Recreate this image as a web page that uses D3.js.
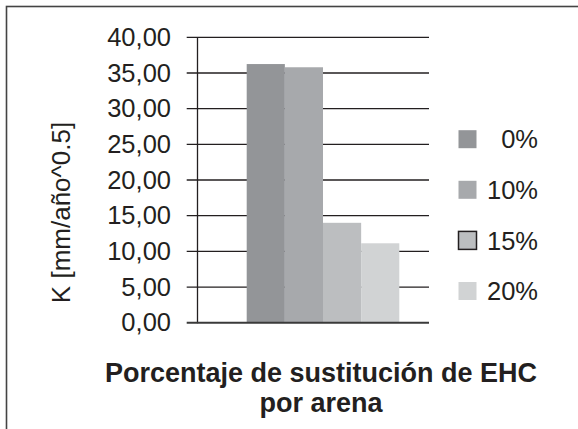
<!DOCTYPE html>
<html><head><meta charset="utf-8">
<script src="https://cdn.jsdelivr.net/npm/d3@7"></script>
<style>body{margin:0;background:#fff}svg{display:block}text{font-family:"Liberation Sans",Arial,Helvetica,sans-serif;fill:#231f20}</style>
</head><body>
<script>
const series = ["0%", "10%", "15%", "20%"];
const values = [36.25, 35.8, 14.0, 11.13];
const colors = ["#939598", "#a7a9ac", "#bcbec0", "#d1d3d4"];
const yTicks = [0, 5, 10, 15, 20, 25, 30, 35, 40];
const yTitle = "K [mm/año^0.5]";
const xTitle = ["Porcentaje de sustitución de EHC", "por arena"];

const W = 578, H = 429;
const svg = d3.select("body").append("svg").attr("width", W).attr("height", H);

svg.append("rect").attr("x", 6.5).attr("y", 6.5).attr("width", 620).attr("height", 460)
  .attr("fill", "none").attr("stroke", "#444").attr("stroke-width", 1.6);

const y = d3.scaleLinear().domain([0, 40]).range([322.7, 37.3]);
const x = d3.scaleBand().domain(series).range([246.7, 399.3]).padding(0);
const fmt = v => d3.format(".2f")(v).replace(".", ",");

// gridlines
svg.append("g").selectAll("line").data(yTicks.filter(d => d > 0)).join("line")
  .attr("x1", 186.7).attr("x2", 429).attr("y1", d => y(d)).attr("y2", d => y(d))
  .attr("stroke", "#231f20").attr("stroke-width", 1.3);

// bars
svg.append("g").selectAll("rect").data(values).join("rect")
  .attr("x", (d, i) => x(series[i])).attr("width", x.bandwidth())
  .attr("y", d => y(d)).attr("height", d => y(0) - y(d))
  .attr("fill", (d, i) => colors[i]);

// axis
const axis = d3.axisLeft(y).tickValues(yTicks).tickSize(0).tickFormat(fmt).tickPadding(26);
const ag = svg.append("g").attr("transform", "translate(197,0)").call(axis);
ag.select(".domain").attr("stroke", "#231f20").attr("stroke-width", 1.3);
ag.selectAll("text").attr("font-size", 25.5).style("font-family", '"Liberation Sans",Arial,sans-serif').attr("fill", "#231f20");

// baseline
svg.append("line").attr("x1", 186.7).attr("x2", 429).attr("y1", y(0)).attr("y2", y(0))
  .attr("stroke", "#3a3a3a").attr("stroke-width", 2);

// legend
const ly = d3.scalePoint().domain(series).range([139.2, 291]);
const lg = svg.append("g");
lg.selectAll("rect").data(series).join("rect")
  .attr("x", 458.5).attr("y", d => ly(d) - 9).attr("width", 18).attr("height", 18)
  .attr("fill", (d, i) => colors[i])
  .attr("stroke", (d, i) => i === 2 ? "#231f20" : "none").attr("stroke-width", 1.5);
lg.selectAll("text").data(series).join("text")
  .attr("x", 538).attr("y", d => ly(d)).attr("dy", "0.36em")
  .attr("text-anchor", "end").attr("font-size", 25.5).text(d => d);

// y title
svg.append("text").attr("transform", "translate(70,212.5) rotate(-90)")
  .attr("text-anchor", "middle").attr("font-size", 26).text(yTitle);

// x title
svg.append("g").selectAll("text").data(xTitle).join("text")
  .attr("x", 321).attr("y", (d, i) => 381.7 + i * 30)
  .attr("text-anchor", "middle").attr("font-size", 27).attr("font-weight", "bold").text(d => d);
</script>
</body></html>
